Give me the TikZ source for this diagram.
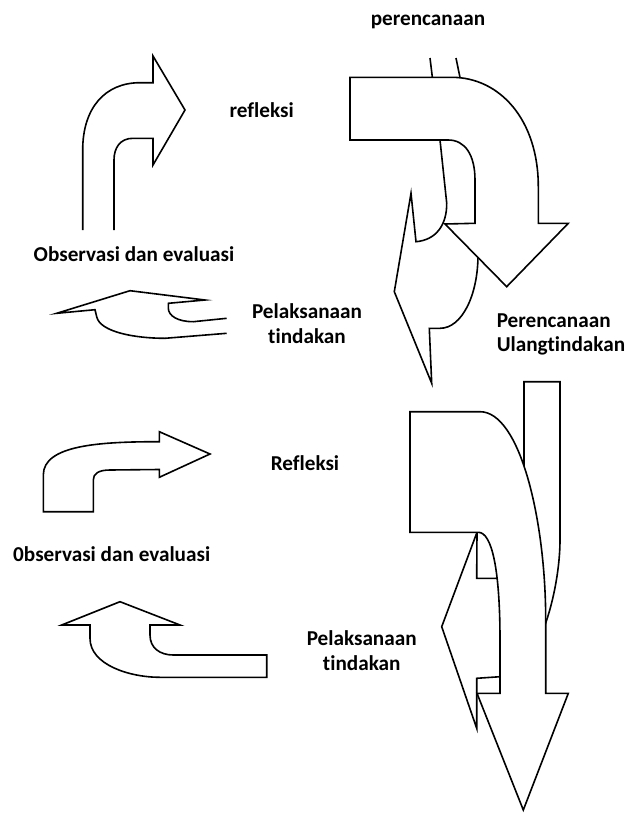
\documentclass[tikz,border=0pt]{standalone}
\usepackage{fontspec}
\setmainfont[Ligatures=CommonOff]{Carlito}
\usepackage{tikz}

\begin{document}
\begin{tikzpicture}[x=1pt,y=-1pt,line width=1.6pt,
  arrowbody/.style={draw=black,fill=white,line join=miter},
  lbl/.style={font=\fontsize{21.2}{24.5}\selectfont\bfseries,inner sep=0pt,anchor=base}]
  \useasboundingbox (0,0) rectangle (625,814);

  % upper cycle
  \draw[arrowbody] (82.7,230) -- (82.7,150) .. controls (82.7,108) and (105,82.7) .. (140,82.7) -- (153,82.7) -- (153,56) -- (185,110) -- (153,165) -- (153,138.3) -- (133,138.3) .. controls (120,138.3) and (114,148) .. (114,160) -- (114,230);
  \draw[arrowbody] (226.7,318.3) -- (193.3,321.7) .. controls (178,321.7) and (168.3,316) .. (168.3,308) -- (168.3,303.3) -- (205,300) -- (130,290.7) -- (56.7,313.3) -- (95,309.7) -- (96.7,316.7) .. controls (100,332) and (135,338.3) .. (165,338.3) -- (226.7,333.3);
  \draw[arrowbody] (430,58) -- (440,140) -- (446.7,203) .. controls (447,225) and (436,240) .. (416,241.7) -- (411,193.3) -- (394.3,291.7) -- (431.7,383.3) -- (429.3,328.3) -- (440,328.3) .. controls (462,328.3) and (478,295) .. (478,255) -- (481,180) -- (456,58);
  \draw[arrowbody] (350,77.3) -- (451.7,77.3) .. controls (500,77.3) and (538.3,120) .. (538.3,186.7) -- (538.3,223.3) -- (568.3,223.3) -- (506.7,286.7) -- (445,224) -- (475,223.3) -- (475,180) .. controls (475,155) and (465,140) .. (448.3,140) -- (350,140) -- cycle;

  % lower cycle
  \draw[arrowbody] (43.3,511.7) -- (43.3,475) .. controls (43.3,445) and (100,441.7) .. (159.3,441.7) -- (159.3,431.7) -- (210,454) -- (159.3,477.3) -- (159.3,469.5) -- (110,470) .. controls (98,470) and (93.3,474) .. (93.3,480) -- (93.3,511.7) -- cycle;
  \draw[arrowbody] (120,601.7) -- (180,625) -- (150,625) -- (150,635) .. controls (150,648) and (160,655) .. (173.3,655) -- (266.7,655) -- (266.7,677.3) -- (160,677.3) .. controls (130,677.3) and (90,665) .. (90,638.3) -- (90,625) -- (61.7,625) -- cycle;
  \draw[arrowbody] (524,381.7) -- (560,381.7) -- (560,540) .. controls (560,590) and (538,676.7) .. (500,676.7) -- (476.7,678.3) -- (476.7,728.3) -- (441.7,626.7) -- (477,532.3) -- (476.7,578.3) -- (496,578.3) .. controls (515,578.3) and (524,520) .. (524,470) -- cycle;
  \draw[arrowbody] (410,411.7) -- (480,411.7) .. controls (520,411.7) and (545.7,520) .. (545.7,620) -- (545.7,693.3) -- (568.3,693.3) -- (523.3,810) -- (477,693.3) -- (500,693.3) -- (500,640) .. controls (500,570) and (492,532.3) .. (478.3,532.3) -- (410,532.3) -- cycle;

  \node[lbl] (perenc) at (428,25) {perencanaan};
  \node[lbl] (refl1) at (261.7,117.3) {refleksi};
  \node[lbl] (obs1) at (134,261) {Observasi dan evaluasi};
  \node[lbl,align=center] (pel1) at (307,343) {Pelaksanaan\\tindakan};
  \node[lbl,align=left,anchor=base west] (ulang) at (496,351.7) {Perencanaan\\Ulangtindakan};
  \node[lbl] (refl2) at (305,470) {Refleksi};
  \node[lbl] (obs2) at (111.7,561.7) {0bservasi dan evaluasi};
  \node[lbl,align=center] (pel2) at (361.7,670) {Pelaksanaan\\tindakan};
\end{tikzpicture}
\end{document}
